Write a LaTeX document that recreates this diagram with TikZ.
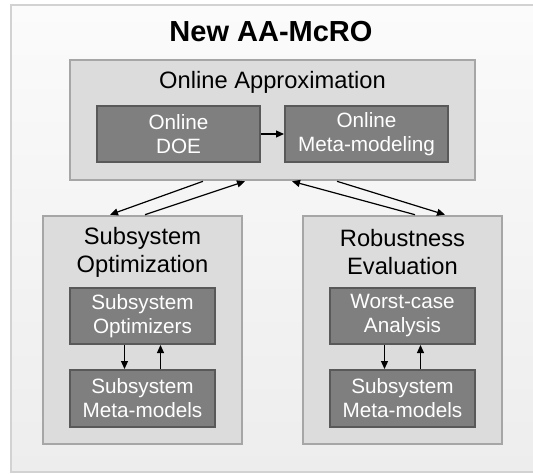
\documentclass[tikz,border=0pt]{standalone}
\usepackage{fontspec}
\setmainfont{Liberation Sans}
\usetikzlibrary{positioning,arrows.meta}
\definecolor{frameline}{HTML}{D2D2D2}
\definecolor{frametop}{HTML}{FBFBFB}
\definecolor{framebottom}{HTML}{EDEDED}
\definecolor{groupfill}{HTML}{DCDCDC}
\definecolor{groupline}{HTML}{A6A6A6}
\definecolor{innerfill}{HTML}{7F7F7F}
\definecolor{innerline}{HTML}{595959}

\begin{document}
\begin{tikzpicture}[x=1pt,y=-1pt,
outerframe/.style ={draw=frameline, line width=2pt, top color=frametop, bottom color=framebottom},
groupblock/.style ={rectangle, draw=groupline, fill=groupfill, line width=2.6pt},
innerblock/.style ={rectangle, draw=innerline, fill=innerfill, line width=2pt, text=white, align=center,
  minimum width=145pt, minimum height=56pt, inner sep=0pt, font=\fontsize{20.7}{24}\selectfont},
grouptitle/.style ={align=center, inner sep=0pt, font=\fontsize{23.7}{28}\selectfont},
flow/.style ={-{Triangle[length=8pt,width=7pt]}, line width=1.2pt}
]
\useasboundingbox (0,0) rectangle (533,474);
%outer frame, cut at the right side
\begin{scope}
\clip (0,0) rectangle (533,474);
\draw[outerframe] (11,5) rectangle (560,472);
\end{scope}
\path (271,32) node[inner sep=0pt, font=\fontsize{29}{34}\selectfont\bfseries] (title) {New AA-McRO};
%online approximation
\path (272.5,120) node[groupblock, minimum width=405pt, minimum height=120pt] (oa) {}
(272.5,82) node[grouptitle] (oatitle) {Online Approximation}
(178.5,134) node[innerblock, minimum width=163pt] (doe) {Online\\DOE}
(366.5,134) node[innerblock, minimum width=163pt] (omm) {Online\\Meta-modeling};
\draw[flow] (doe) -- (omm);
%subsystem optimization
\path (142.5,330) node[groupblock, minimum width=199pt, minimum height=228pt] (so) {}
(142.5,252) node[grouptitle] (sotitle) {Subsystem\\Optimization}
(142.5,316) node[innerblock] (sopt) {Subsystem\\Optimizers}
(142.5,398.5) node[innerblock, minimum height=57pt] (smml) {Subsystem\\Meta-models};
\draw[flow] ([xshift=-18]sopt.south) -- ([xshift=-18]smml.north);
\draw[flow] ([xshift=18]smml.north) -- ([xshift=18]sopt.south);
%robustness evaluation
\path (402.5,330) node[groupblock, minimum width=199pt, minimum height=228pt] (re) {}
(402.5,252) node[grouptitle] (retitle) {Robustness\\Evaluation}
(402.5,316) node[innerblock] (wca) {Worst-case\\Analysis}
(402.5,398.5) node[innerblock, minimum height=57pt] (smmr) {Subsystem\\Meta-models};
\draw[flow] ([xshift=-18]wca.south) -- ([xshift=-18]smmr.north);
\draw[flow] ([xshift=18]smmr.north) -- ([xshift=18]wca.south);
%links between the groups
\draw[flow] ([xshift=-69.5]oa.south) -- ([xshift=-32.5]so.north);
\draw[flow] ([xshift=2.5]so.north) -- ([xshift=-27.5]oa.south);
\draw[flow] ([xshift=12.5]re.north) -- ([xshift=19.5]oa.south);
\draw[flow] ([xshift=64.5]oa.south) -- ([xshift=42.5]re.north);
\end{tikzpicture}
\end{document}
